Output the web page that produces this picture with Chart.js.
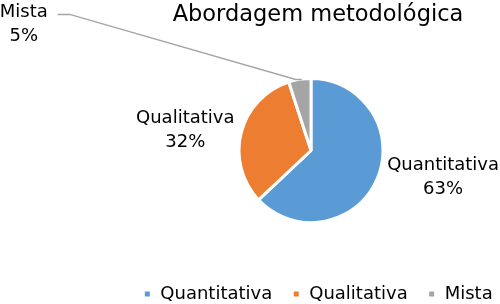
<!DOCTYPE html>
<html>
<head>
<meta charset="utf-8">
<script src="https://cdn.jsdelivr.net/npm/chart.js@4.4.1/dist/chart.umd.min.js"></script>
<style>
  html, body { margin: 0; padding: 0; background: #fff; }
  #wrap { width: 500px; height: 304px; }
</style>
</head>
<body>
<div id="wrap"><canvas id="graficoAbordagem"></canvas></div>
<script>
const categorias = ['Quantitativa', 'Qualitativa', 'Mista'];
const percentuais = [63, 32, 5];
const cores = ['#5B9BD5', '#ED7D31', '#A5A5A5'];
const titulo = 'Abordagem metodológica';

const fonte = "'DejaVu Sans', sans-serif";

// posição dos rótulos em relação ao ponto médio do arco
const posRotulos = [
    { dx: 66, dy: -2 },
    { dx: -56, dy: -2 },
    { dx: -276, dy: -55, linha: true }
];

const rotulosPizza = {
    id: 'rotulosPizza',
    afterDatasetsDraw(chart) {
        const ctx = chart.ctx;
        const meta = chart.getDatasetMeta(0);
        ctx.save();
        ctx.font = '18px ' + fonte;
        ctx.fillStyle = '#000';
        ctx.textAlign = 'center';
        ctx.textBaseline = 'middle';
        meta.data.forEach((arco, i) => {
            const p = arco.getProps(['x', 'y', 'startAngle', 'endAngle', 'outerRadius'], true);
            const meio = (p.startAngle + p.endAngle) / 2;
            const ax = p.x + Math.cos(meio) * p.outerRadius;
            const ay = p.y + Math.sin(meio) * p.outerRadius;
            const pos = posRotulos[i];
            const cx = ax + pos.dx;
            const cy = ay + pos.dy;
            if (pos.linha) {
                ctx.strokeStyle = '#A5A5A5';
                ctx.lineWidth = 1.5;
                ctx.beginPath();
                ctx.moveTo(cx + 34, cy - 10);
                ctx.lineTo(cx + 46, cy - 10);
                ctx.lineTo(ax - 4, ay);
                ctx.lineTo(ax + 2, ay);
                ctx.stroke();
            }
            ctx.fillText(categorias[i], cx, cy - 12);
            ctx.fillText(percentuais[i] + '%', cx, cy + 12);
        });
        ctx.restore();
    }
};

new Chart(document.getElementById('graficoAbordagem'), {
    type: 'pie',
    data: {
        labels: categorias,
        datasets: [{
            data: percentuais,
            backgroundColor: cores,
            borderColor: '#fff',
            borderWidth: 3
        }]
    },
    options: {
        responsive: true,
        maintainAspectRatio: false,
        animation: false,
        radius: 72,
        layout: { padding: { left: 122, right: -14, top: 2, bottom: -9 } },
        plugins: {
            title: {
                display: true,
                text: titulo,
                color: '#000',
                font: { family: fonte, size: 22.5, weight: 'normal' },
                padding: { top: 0, bottom: 7 }
            },
            legend: {
                position: 'bottom',
                labels: {
                    color: '#000',
                    font: { family: fonte, size: 18 },
                    boxWidth: 8,
                    boxHeight: 8,
                    padding: 20
                }
            },
            tooltip: { enabled: false }
        }
    },
    plugins: [rotulosPizza]
});
</script>
</body>
</html>
